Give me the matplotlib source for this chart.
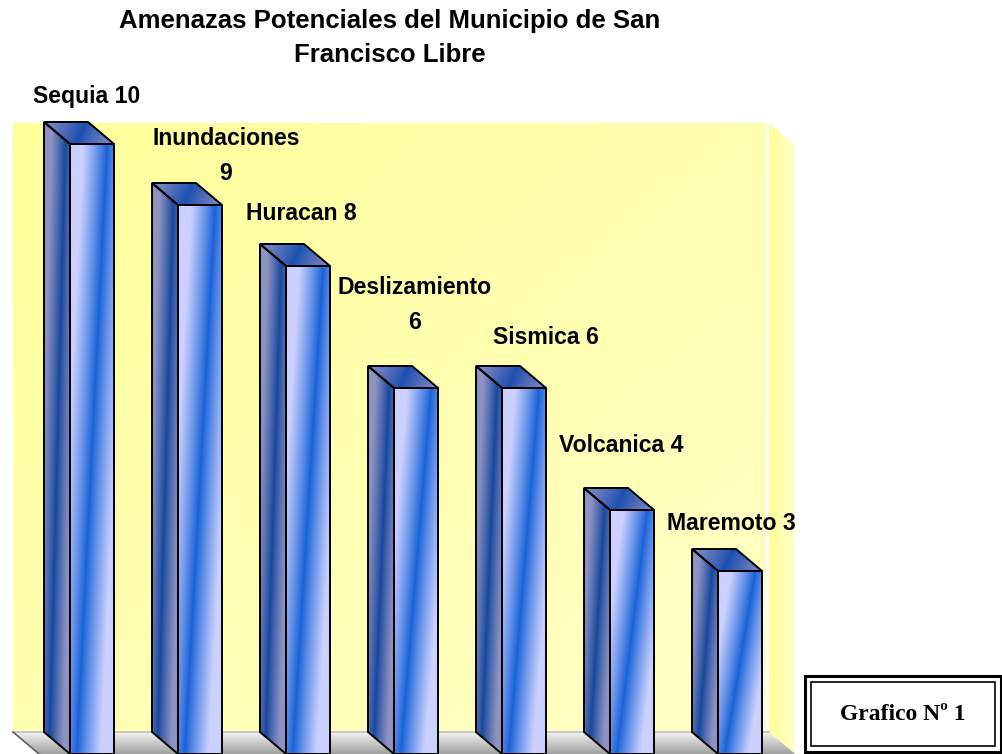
import matplotlib
matplotlib.use('Agg')
import numpy as np
import matplotlib.pyplot as plt
from matplotlib.patches import Polygon, Rectangle

# datos del grafico
amenazas = ["Sequia", "Inundaciones", "Huracan", "Deslizamiento", "Sismica", "Volcanica", "Maremoto"]
valores = [10, 9, 8, 6, 6, 4, 3]
titulo = ["Amenazas Potenciales del Municipio de San", "Francisco Libre"]
nota = "Grafico Nº 1"

W, H = 1003, 754
fig = plt.figure(figsize=(W / 100, H / 100), dpi=100)
ax = fig.add_axes([0, 0, 1, 1])
ax.set_xlim(-92 / 108, (W - 92) / 108)
ax.set_ylim(0, H / 61)
ax.axis('off')

bw = 44 / 108      # ancho de la barra
ddx = 26 / 108     # profundidad 3d
ddy = 22 / 61


def hexrgb(h):
    return np.array([int(h[i:i + 2], 16) / 255 for i in (1, 3, 5)])


def shade(verts, func, z, lw=1.4, ec='black'):
    poly = Polygon(verts, closed=True, facecolor='none', edgecolor=ec, lw=lw, zorder=z + 0.1)
    ax.add_patch(poly)
    xs = [p[0] for p in verts]
    ys = [p[1] for p in verts]
    u = np.linspace(0, 1, 60)[None, :]
    w = np.linspace(0, 1, 120)[:, None]
    img = func(u, w)
    im = ax.imshow(img, extent=[min(xs), max(xs), min(ys), max(ys)], origin='lower',
                   aspect='auto', interpolation='bilinear', zorder=z)
    im.set_clip_path(poly)


def band(c_light, c_dark, p0, p1, width):
    L, D = hexrgb(c_light), hexrgb(c_dark)

    def f(u, w):
        p = p0 + (p1 - p0) * w
        t = np.clip(np.abs(u - p) / width, 0, 1) ** 0.9
        return D + (L - D) * t[..., None]
    return f


# pared del fondo, pared lateral y piso
xl, xr = -0.731, 6.24
top = 10.34
Y1, Y2 = hexrgb('#FFFF9A'), hexrgb('#FFFFC8')
shade([(xl, ddy), (xr, ddy), (xr, top), (xl, top)],
      lambda u, w: Y1 + (Y2 - Y1) * np.clip(0.5 * u + 0.5 * (1 - w), 0, 1)[..., None],
      0, lw=0, ec='none')
sx = xr + 0.03
shade([(sx, ddy), (sx, top), (sx + ddx, top - ddy), (sx + ddx, 0)],
      lambda u, w: (hexrgb('#FFFF94') + (hexrgb('#FFFFCC') - hexrgb('#FFFF94'))
                    * u[..., None]) * np.ones_like(w)[..., None], 0, lw=0, ec='none')
shade([(xl, ddy), (sx, ddy), (sx + ddx, 0), (xl + ddx, 0)],
      lambda u, w: (hexrgb('#A0A0A0') + (hexrgb('#F4F4F4') - hexrgb('#A0A0A0'))
                    * w[..., None]) * np.ones_like(u)[..., None], 0.5, lw=0, ec='none')
ax.plot([xl, sx], [ddy, ddy], color='#BDBDBD', lw=1.2, zorder=0.7)
ax.plot([xl, xl + ddx], [ddy, 0], color='#606060', lw=1.2, zorder=0.7)

# barras 3d
for i, v in enumerate(valores):
    x0, x1 = i - bw / 2, i + bw / 2
    shade([(x0 - ddx, ddy), (x0 - ddx, v + ddy), (x0, v), (x0, 0)],
          band('#8E93C2', '#17479E', 0.2, 0.85, 0.55), 2)
    shade([(x0, v), (x1, v), (x1 - ddx, v + ddy), (x0 - ddx, v + ddy)],
          band('#7C86C2', '#1C4FB0', 0.45, 0.6, 0.5), 2)
    shade([(x0, 0), (x1, 0), (x1, v), (x0, v)],
          band('#CCD1FF', '#1761D8', 0.15, 0.85, 0.55), 2)

# etiquetas de datos
salto = [False, True, False, True, False, False, False]
offs = [(-5, 48), (26, 49), (-7, 52), (-1, 83), (22, 51), (-11, 64), (-9, 48)]
for i, v in enumerate(valores):
    txt = amenazas[i] + ("\n" if salto[i] else " ") + str(v)
    ax.annotate(txt, (i, v), xytext=offs[i], textcoords='offset pixels', ha='center', va='center',
                fontsize=16.6, fontweight='bold', family='Liberation Sans', linespacing=1.65, zorder=5)

# titulo
fig.text(390 / W, 1 - 21 / H, titulo[0], ha='center', va='center', fontsize=18.5,
         fontweight='bold', family='Liberation Sans')
fig.text(390 / W, 1 - 55 / H, titulo[1], ha='center', va='center', fontsize=18.5,
         fontweight='bold', family='Liberation Sans')

# recuadro
fig.add_artist(Rectangle((805 / W, 1 - 752 / H), 196 / W, 76 / H, transform=fig.transFigure,
                         facecolor='white', edgecolor='black', lw=2.2))
fig.add_artist(Rectangle((811 / W, 1 - 746 / H), 184 / W, 64 / H, transform=fig.transFigure,
                         facecolor='none', edgecolor='black', lw=1.2))
fig.text(903 / W, 1 - 714 / H, nota, ha='center', va='center', fontsize=17,
         fontweight='bold', family='Liberation Serif')

fig.savefig('out.png', dpi=100)
